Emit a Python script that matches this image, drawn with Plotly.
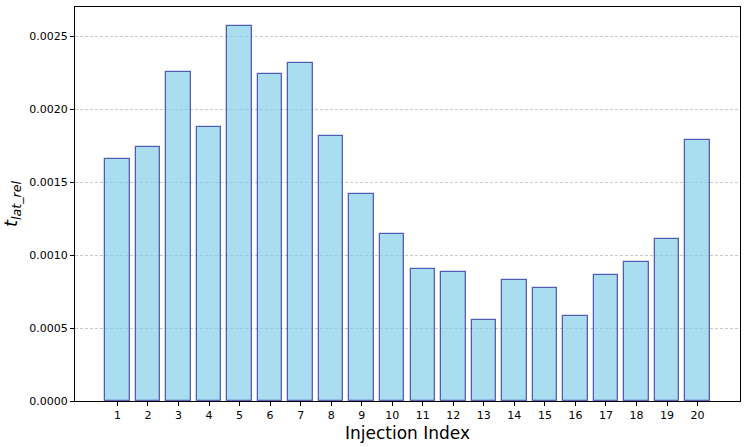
import plotly.graph_objects as go

injection_index = list(range(1, 21))
t_lat_rel = [0.001658, 0.001742, 0.002256, 0.001877, 0.002568, 0.002238, 0.002315,
             0.001815, 0.001416, 0.001142, 0.000902, 0.000881, 0.000555, 0.000829,
             0.000772, 0.000582, 0.000861, 0.000954, 0.001110, 0.001788]

fig = go.Figure()
fig.add_trace(go.Bar(
    x=injection_index, y=t_lat_rel, width=0.8,
    marker=dict(color="rgba(135,206,235,0.7)",
                line=dict(color="rgba(0,0,139,0.6)", width=1.3)),
))

fig.update_layout(
    width=748, height=447,
    margin=dict(l=75, r=8, t=7, b=46),
    paper_bgcolor="white", plot_bgcolor="white",
    font=dict(family="DejaVu Sans", color="black", size=11),
    showlegend=False,
    bargap=0,
)
fig.update_xaxes(
    automargin=False,
    range=[-0.39, 21.39], tickmode="array", tickvals=injection_index,
    ticktext=[str(i) for i in injection_index],
    showline=True, linecolor="black", linewidth=1, mirror=True,
    ticks="outside", ticklen=4, tickcolor="black", showgrid=False,
    title=dict(text="Injection Index", font=dict(size=17), standoff=5),
)
fig.update_yaxes(
    automargin=False,
    range=[0, 0.0027], dtick=0.0005, tick0=0, tickformat=".4f",
    showline=True, linecolor="black", linewidth=1, mirror=True,
    ticks="outside", ticklen=4, tickcolor="black",
    showgrid=True, gridcolor="rgba(176,176,176,0.7)", griddash="3px,2px", gridwidth=0.8,
    zeroline=False,
    title=dict(text="<i>t</i><sub><i>lat_rel</i></sub>", font=dict(size=18), standoff=8),
)

fig.write_html("out.html", config={"displayModeBar": False},
               post_script="document.body.style.margin='0';")
